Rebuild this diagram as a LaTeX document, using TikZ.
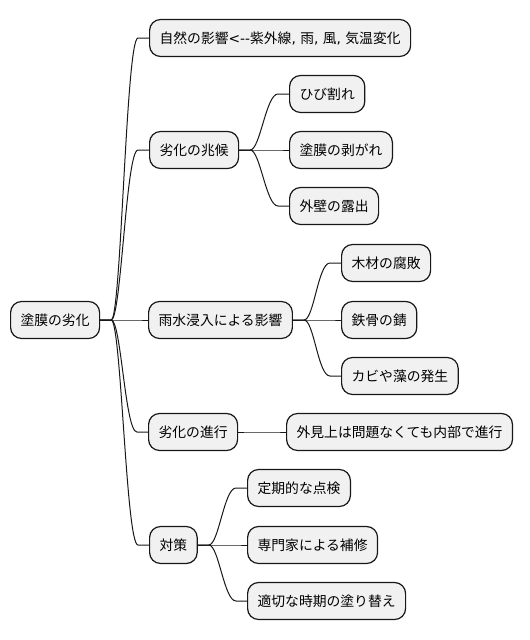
\documentclass[tikz,border=0pt]{standalone}
\usepackage{fontspec}
\setmainfont{Noto Sans CJK JP}[Ligatures=TeXOff]
\newfontfamily\latinfont{DejaVu Sans}[Ligatures=TeXOff]
\definecolor{boxfill}{HTML}{F1F1F1}
\definecolor{boxline}{HTML}{181818}

\begin{document}
\begin{tikzpicture}[x = 1pt, y = -1pt,
  topic/.style = {draw = boxline, fill = boxfill, line width = 1.2pt, rounded corners = 11pt,
    minimum height = 37pt, inner xsep = 10pt, inner ysep = 0pt, anchor = west,
    font = \fontsize{13.8pt}{16pt}\selectfont},
  link/.style = {draw = boxline, line width = 1pt}]

\useasboundingbox (0, 0) rectangle (530, 640);

 \node[topic] (root) at (10, 320) {塗膜の劣化};

 \node[topic] (nature) at (149, 38) {自然の影響{\latinfont <--}紫外線{\latinfont , }雨{\latinfont , }風{\latinfont , }気温変化};
 \node[topic] (signs) at (149, 150) {劣化の兆候};
 \node[topic] (rain) at (148, 320) {雨水浸入による影響};
 \node[topic] (progress) at (148, 432) {劣化の進行};
 \node[topic] (measures) at (149, 545) {対策};

 \node[topic] (crack) at (289, 94) {ひび割れ};
 \node[topic] (peel) at (289, 150) {塗膜の剥がれ};
 \node[topic] (exposed) at (289, 206) {外壁の露出};

 \node[topic] (rot) at (341, 263) {木材の腐敗};
 \node[topic] (rust) at (341, 320) {鉄骨の錆};
 \node[topic] (mold) at (341, 376) {カビや藻の発生};

 \node[topic] (hidden) at (286, 432) {外見上は問題なくても内部で進行};

 \node[topic] (check) at (247, 488) {定期的な点検};
 \node[topic] (repair) at (247, 545) {専門家による補修};
 \node[topic] (repaint) at (247, 601) {適切な時期の塗り替え};

 \foreach \parent/\child in {root/nature, root/signs, root/rain, root/progress, root/measures,
   signs/crack, signs/peel, signs/exposed, rain/rot, rain/rust, rain/mold,
   progress/hidden, measures/check, measures/repair, measures/repaint}
   \draw[link] (\parent.east) -- ++(11, 0) .. controls +(10, 0) and +(-12, 0) .. ([xshift = -11pt]\child.west) -- (\child.west);
\end{tikzpicture}
\end{document}
